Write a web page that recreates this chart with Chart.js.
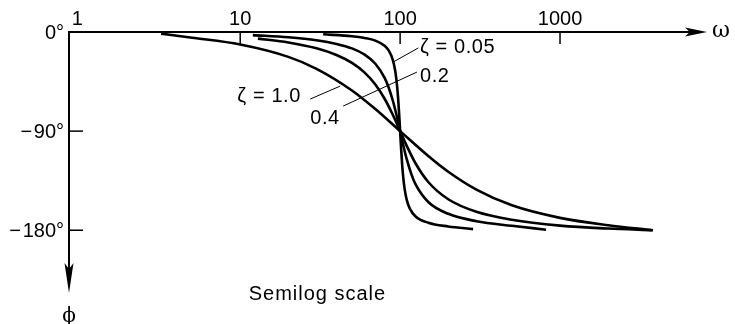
<!DOCTYPE html>
<html>
<head>
<meta charset="utf-8">
<title>Phase angle - semilog scale</title>
<script src="https://cdn.jsdelivr.net/npm/chart.js@4.4.0/dist/chart.umd.min.js"></script>
<style>
  html, body { margin: 0; padding: 0; background: #fff; }
  canvas { display: block; }
</style>
</head>
<body>
<canvas id="graphePhase" width="735" height="324"></canvas>
<script>
// frequency (rad/s) and phase (deg) along each damping curve, wn = 100
var omega005 = [33, 50, 60, 70, 80, 85, 90, 93, 95, 97, 99, 100, 101, 103, 105, 107, 110, 115, 125, 150, 200, 286];
var phi005   = [-2.1, -3.8, -5.4, -7.8, -12.5, -17.0, -25.3, -34.5, -44.3, -58.6, -78.6, -90, -101.3, -120.6, -134.3, -143.6, -152.4, -160.4, -167.5, -173.2, -176.6, -179];

var omega02 = [12, 20, 30, 40, 50, 60, 70, 80, 85, 90, 95, 100, 105, 110, 118, 125, 150, 200, 300, 500, 818];
var phi02   = [-2.8, -4.8, -7.5, -10.8, -14.9, -20.6, -28.8, -41.6, -50.8, -62.2, -75.6, -90, -103.7, -115.5, -129.7, -138.4, -154.4, -165.1, -171.8, -176, -179.5];

var omega04 = [12.9, 20, 30, 40, 50, 60, 70, 80, 90, 100, 110, 125, 150, 200, 300, 500, 1000, 2000, 3800];
var phi04   = [-6.0, -9.5, -14.8, -20.9, -28.1, -36.9, -47.7, -60.6, -75.2, -90, -103.4, -119.4, -136.2, -151.9, -163.3, -170.5, -175.8, -178.5, -180];

var omega10 = [3.2, 5, 10, 20, 30, 50, 70, 100, 150, 200, 300, 500, 1000, 2000, 3800];
var phi10   = [-1.5, -5.2, -11.4, -22.6, -33.4, -53.1, -70.0, -90, -112.6, -126.9, -143.1, -157.4, -168.8, -175.5, -180];

var xTicks = [10, 100, 1000];
var xTickLabels = ["1", "10", "100", "1000"];
var xTickValues = [1, 10, 100, 1000];
var yTicks = [-90, -180];
var yTickLabels = ["0\u00b0", "\u2212\u200a90\u00b0", "\u2212\u200a180\u00b0"];
var yTickValues = [0, -90, -180];

var police = "20px 'Liberation Sans', Arial, Helvetica, sans-serif";

function points(w, phi) {
    var pts = [];
    for (var i = 0; i < w.length; i++) {
        pts.push({x: w[i], y: phi[i]});
    }
    return pts;
}

function courbe(w, phi) {
    return {
        data: points(w, phi),
        showLine: true,
        borderColor: "#000",
        borderWidth: 2.6,
        pointRadius: 0,
        cubicInterpolationMode: "monotone",
        clip: false,
        fill: false
    };
}

// axes with arrows, ticks, labels and the zeta annotations
var axesSemilog = {
    id: "axesSemilog",
    afterDatasetsDraw: function (chart) {
        var ctx = chart.ctx;
        var xs = chart.scales.x;
        var ys = chart.scales.y;
        var area = chart.chartArea;
        var y0 = ys.getPixelForValue(0);
        var x0 = area.left;
        var i;

        function px(w) { return xs.getPixelForValue(w); }
        function py(p) { return ys.getPixelForValue(p); }

        ctx.save();
        ctx.strokeStyle = "#000";
        ctx.fillStyle = "#000";
        ctx.lineCap = "butt";

        // omega axis
        ctx.lineWidth = 2;
        ctx.beginPath();
        ctx.moveTo(x0, y0);
        ctx.lineTo(area.right - 14, y0);
        ctx.stroke();
        ctx.beginPath();
        ctx.moveTo(area.right, y0);
        ctx.lineTo(area.right - 22, y0 - 4.5);
        ctx.lineTo(area.right - 17, y0);
        ctx.lineTo(area.right - 22, y0 + 4.5);
        ctx.closePath();
        ctx.fill();

        // phi axis
        ctx.beginPath();
        ctx.moveTo(x0, y0 - 1);
        ctx.lineTo(x0, area.bottom - 20);
        ctx.stroke();
        ctx.beginPath();
        ctx.moveTo(x0, area.bottom);
        ctx.lineTo(x0 - 4.5, area.bottom - 30);
        ctx.lineTo(x0, area.bottom - 24);
        ctx.lineTo(x0 + 4.5, area.bottom - 30);
        ctx.closePath();
        ctx.fill();

        // tick marks
        ctx.lineWidth = 1.5;
        for (i = 0; i < xTicks.length; i++) {
            ctx.beginPath();
            ctx.moveTo(px(xTicks[i]), y0);
            ctx.lineTo(px(xTicks[i]), y0 + 12);
            ctx.stroke();
        }
        for (i = 0; i < yTicks.length; i++) {
            ctx.beginPath();
            ctx.moveTo(x0, py(yTicks[i]));
            ctx.lineTo(x0 + 14, py(yTicks[i]));
            ctx.stroke();
        }

        // tick labels
        ctx.font = police;
        ctx.textBaseline = "alphabetic";
        ctx.textAlign = "center";
        for (i = 0; i < xTickValues.length; i++) {
            ctx.fillText(xTickLabels[i], px(xTickValues[i]) - (i === 0 ? 3 : 0), y0 - 7);
        }
        ctx.textAlign = "right";
        for (i = 0; i < yTickValues.length; i++) {
            ctx.fillText(yTickLabels[i], x0 - 5, py(yTickValues[i]) + 7);
        }

        // axis names
        ctx.font = "22px 'DejaVu Serif', 'Liberation Serif', serif";
        ctx.textAlign = "left";
        ctx.fillText("\u03c9", area.right + 5, y0 + 5);
        ctx.textAlign = "center";
        ctx.textBaseline = "middle";
        ctx.font = "20px 'DejaVu Serif', 'Liberation Serif', serif";
        ctx.fillText("\u03d5", x0, area.bottom + 24);

        ctx.font = police;
        ctx.textBaseline = "alphabetic";
        ctx.letterSpacing = "1px";
        ctx.fillText("Semilog scale", px(30.4), py(-237) + 7);

        // zeta labels and leaders
        ctx.lineWidth = 1;
        ctx.beginPath();
        ctx.moveTo(px(27.4), py(-60.9));
        ctx.lineTo(px(42.2), py(-49.1));
        ctx.moveTo(px(44), py(-67.3));
        ctx.lineTo(px(127.4), py(-36.4));
        ctx.moveTo(px(90.4), py(-27.3));
        ctx.lineTo(px(130), py(-14.5));
        ctx.stroke();

        ctx.letterSpacing = "0.6px";
        ctx.textAlign = "left";
        ctx.textBaseline = "middle";
        ctx.fillText("\u03b6 = 1.0", px(9.6), py(-59));
        ctx.fillText("0.4", px(27.4), py(-78.2));
        ctx.fillText("0.2", px(133), py(-40));
        ctx.fillText("\u03b6 = 0.05", px(133), py(-14.5));
        ctx.letterSpacing = "0px";

        ctx.restore();
    }
};

var ctx = document.getElementById("graphePhase");
var graphePhase = new Chart(ctx, {
    type: "scatter",
    data: {
        datasets: [
            courbe(omega005, phi005),
            courbe(omega02, phi02),
            courbe(omega04, phi04),
            courbe(omega10, phi10)
        ]
    },
    options: {
        responsive: false,
        animation: false,
        devicePixelRatio: 1,
        layout: {
            padding: {left: 69, top: 32, right: 28, bottom: 31}
        },
        plugins: {
            legend: {display: false},
            tooltip: {enabled: false}
        },
        scales: {
            x: {type: "logarithmic", min: 0.85, max: 8300, display: false},
            y: {type: "linear", min: -237, max: 0, display: false}
        }
    },
    plugins: [axesSemilog]
});
</script>
</body>
</html>
